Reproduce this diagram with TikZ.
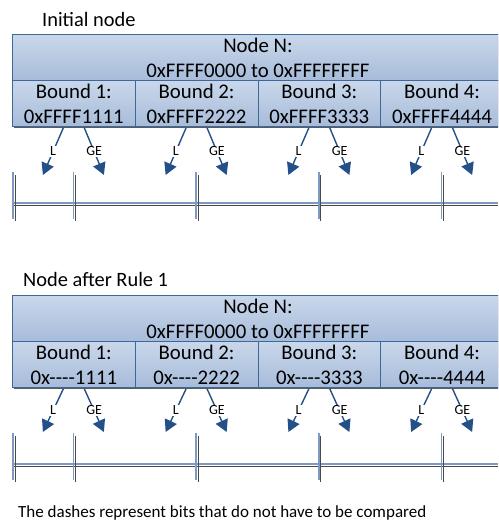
\documentclass[tikz,border=0pt]{standalone}
\usepackage{fontspec}
\setmainfont{Carlito}[Ligatures=TeXOff]
\usetikzlibrary{arrows.meta}

\definecolor{cellTop}{HTML}{C9D7EA}
\definecolor{cellBot}{HTML}{A7BCDA}
\definecolor{cellLine}{HTML}{3D689C}
\definecolor{arrowBlue}{HTML}{24508A}
\definecolor{tickBlue}{HTML}{7E9AC2}
\definecolor{tickGray}{HTML}{4A4A4A}
\definecolor{boxShadow}{HTML}{5C5C5C}

\tikzset{
  cell/.style={draw=cellLine, line width=0.9pt, top color=cellTop, bottom color=cellBot,
    anchor=north west, inner sep=0pt, minimum height=46pt,
    font=\fontsize{20.8}{25}\selectfont, align=center},
  headcell/.style={cell, minimum width=491pt},
  boundcell/.style={cell, minimum width=122.75pt},
  title/.style={anchor=base west, inner sep=0pt, font=\fontsize{20.4}{24}\selectfont},
  note/.style={anchor=base west, inner sep=0pt, font=\fontsize{17}{20}\selectfont},
  branch/.style={draw=arrowBlue, line width=1.4pt,
    -{Triangle[width=13pt,length=12pt]}},
  branchlabel/.style={fill=white, inner sep=1.2pt, font=\fontsize{14}{16}\selectfont},
  tickblue/.style={draw=tickBlue, line width=1.7pt},
  tickgray/.style={draw=tickGray, line width=1pt},
}

% One node with its four bounds, the L/GE branches and the number line.
% #1 prefix, #2 y offset, #3 y of the arrow tips, #4 digits shown for the bounds
\newcommand\rangenode[4]{%
  \fill[boxShadow] (13.5,#2+36) rectangle (505,#2+128);
  \node[headcell] (#1head) at (12,#2+34) {Node N:\\0xFFFF0000 to 0xFFFFFFFF};
  \foreach \i/\d in {1/1111,2/2222,3/3333,4/4444}{
    \node[boundcell] (#1b\i) at ({12+(\i-1)*122.75},#2+80) {Bound \i:\\0x#4\d};
    \coordinate (#1tipL\i) at ({12+(\i-1)*122.75+61.4-30.5},#3);
    \coordinate (#1tipG\i) at ({12+(\i-1)*122.75+61.4+30.5},#3);
    \draw[branch] ([xshift=-10.5pt,yshift=-1pt]#1b\i.south) -- node[branchlabel]{L} (#1tipL\i);
    \draw[branch] ([xshift=10.5pt,yshift=-1pt]#1b\i.south) -- node[branchlabel]{GE} (#1tipG\i);
  }
  % number line
  \draw[tickblue] (12,#2+202.7) -- (498,#2+202.7);
  \draw[tickgray] (12,#2+205.5) -- (498,#2+205.5);
  \foreach \x in {13,73.6,196.3,318.9,441.4}{
    \draw[tickblue] (\x,#2+172) -- (\x,#2+219);
    \draw[tickgray] (\x+2,#2+175) -- (\x+2,#2+221);
  }
}

\begin{document}
\begin{tikzpicture}[x=1pt,y=-1pt]
  \useasboundingbox (0,0) rectangle (498,522);
  \clip (0,0) rectangle (498,522);

  \node[title] (t1) at (42,26.5) {Initial node};
  \rangenode{p}{0}{175}{FFFF}

  \node[title] (t2) at (23,286) {Node after Rule 1};
  \rangenode{q}{261}{432}{----}

  \node[note] (n1) at (18,517.6) {The dashes represent bits that do not have to be compared};
\end{tikzpicture}
\end{document}
